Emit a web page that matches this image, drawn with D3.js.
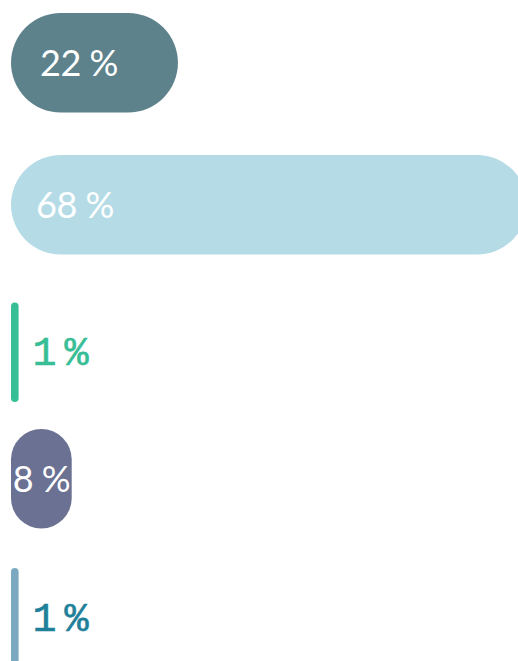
<!DOCTYPE html>
<html>
<head>
<meta charset="utf-8">
<script src="https://cdn.jsdelivr.net/npm/d3@7"></script>
<style>
  html, body { margin: 0; padding: 0; background: #fff; overflow: hidden; }
  svg { display: block; }
  .mono { font-family: "Liberation Mono", monospace; }
  .sans { font-family: Lato, sans-serif; }
</style>
</head>
<body>
<div id="chart"></div>
<script>
// Chart data
const categories = ['a', 'b', 'c', 'd', 'e'];
const values = [22, 68, 1, 8, 1];
const barColors = ['#5e828c', '#b5dce6', '#38be96', '#6b7192', '#7aa9c0'];
const labelColors = ['#ffffff', '#ffffff', '#38be96', '#ffffff', '#1f809a'];

const width = 518, height = 661;
const left = 11, barH = 99.5;

const svg = d3.select('#chart').append('svg')
    .attr('width', width)
    .attr('height', height);

// horizontal scale: 68% reaches a bit past the right edge
const x = d3.scaleLinear().domain([0, 68]).range([0, 516]);

// row tops (rows are not evenly spaced in the original)
const y = d3.scaleOrdinal().domain(categories).range([13, 155, 302.5, 429, 568]);

const rows = categories.map((c, i) => ({ cat: c, value: values[i], color: barColors[i], text: labelColors[i] }));

const g = svg.selectAll('g.row')
    .data(rows)
    .enter().append('g')
    .attr('class', 'row')
    .attr('transform', d => `translate(${left},${y(d.cat)})`);

g.append('rect')
    .attr('width', d => x(d.value))
    .attr('height', barH)
    .attr('rx', d => Math.min(barH / 2, x(d.value) / 2))
    .attr('fill', d => d.color);

const thin = d => x(d.value) < 20;

// labels: inside wide bars, outside thin ones
g.append('text')
    .attr('class', d => thin(d) ? 'mono' : 'sans')
    .attr('y', barH / 2)
    .attr('dy', d => thin(d) ? '0.32em' : '0.36em')
    .attr('fill', d => d.text)
    .attr('stroke', d => thin(d) ? d.text : 'none')
    .attr('stroke-width', 0.6)
    .style('font-size', d => thin(d) ? '40px' : '36px')
    .style('letter-spacing', d => thin(d) ? '-8px' : '-0.5px')
    .attr('text-anchor', d => (!thin(d) && x(d.value) < 120) ? 'middle' : 'start')
    .attr('x', d => {
        const w = x(d.value);
        if (thin(d)) return w + 14;
        if (w < 120) return w / 2;
        return d.value > 50 ? 25 : 29;
    })
    .text(d => `${d.value} %`);
</script>
</body>
</html>
